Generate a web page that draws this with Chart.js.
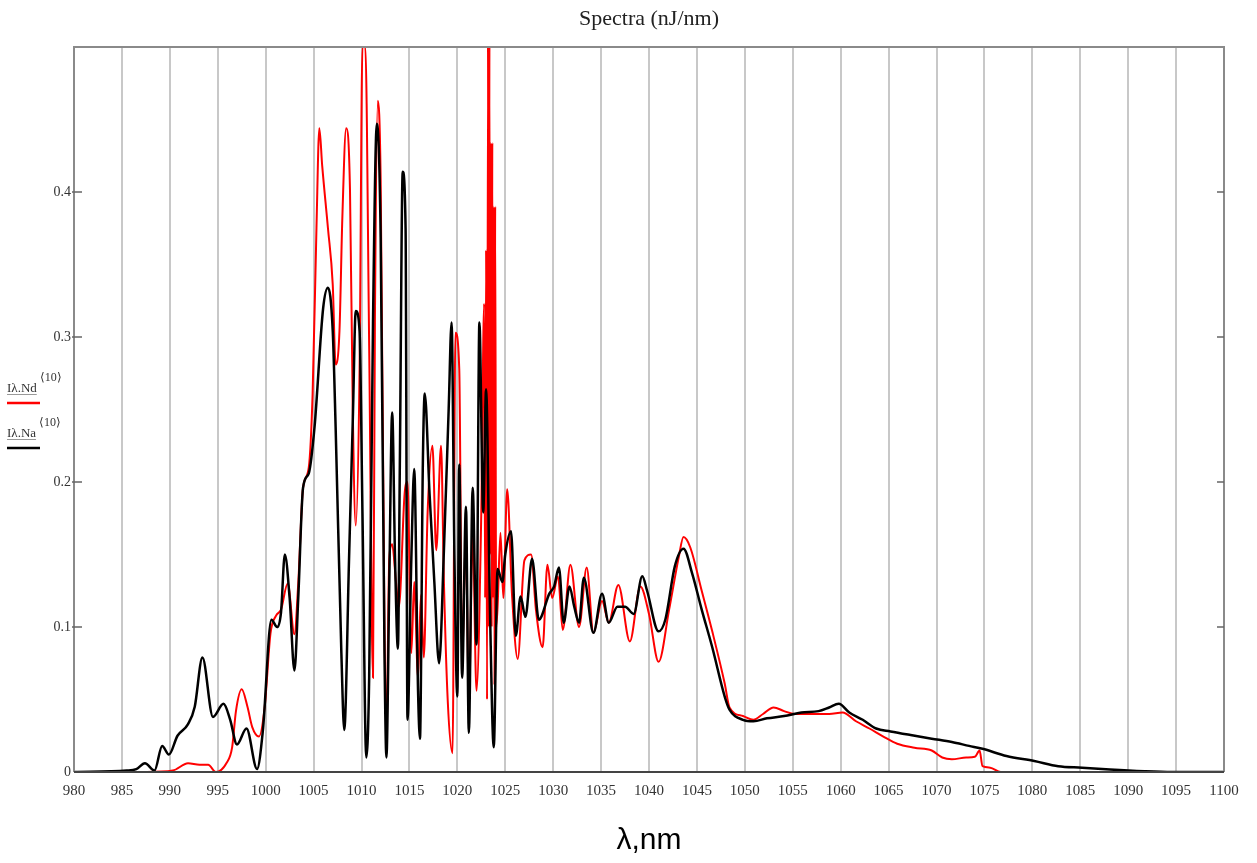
<!DOCTYPE html>
<html>
<head>
<meta charset="utf-8">
<script src="https://cdn.jsdelivr.net/npm/chart.js@4.4.1/dist/chart.umd.min.js"></script>
<style>
  body { margin: 0; background: #fff; }
  #wrap { width: 1257px; height: 863px; }
</style>
</head>
<body>
<div id="wrap"><canvas id="spectra" width="1257" height="863"></canvas></div>
<script>
// Na spectrum (black), nJ/nm vs wavelength, nm
const naWavelength = [
  980, 985.5, 986.5, 987.4, 988.4, 989.2, 989.9, 990.8, 991.9, 992.6, 993.4, 994.5, 995.6, 996.3,
  997.0, 998.0, 999.1, 999.7, 1000.6, 1001.2, 1001.6, 1002.0, 1002.5, 1003.0, 1003.4, 1003.9,
  1004.5, 1005.1, 1006.0, 1006.5, 1007.0, 1007.3, 1007.9, 1008.2, 1008.7, 1009.1, 1009.4, 1009.8,
  1010.1, 1010.5, 1010.8, 1011.2, 1011.6, 1012.0, 1012.4, 1012.6, 1012.9, 1013.2, 1013.5, 1013.8,
  1014.0, 1014.3, 1014.6, 1014.8, 1015.2, 1015.5, 1015.9, 1016.1, 1016.4, 1016.6, 1017.1, 1017.6,
  1018.1, 1018.6, 1019.1, 1019.4, 1019.7, 1020.0, 1020.2, 1020.5, 1020.9, 1021.2, 1021.6, 1022.0,
  1022.3, 1022.7, 1023.0, 1023.4, 1023.8, 1024.2, 1024.7, 1025.0, 1025.6, 1026.1, 1026.6, 1027.1,
  1027.8, 1028.5, 1029.6, 1030.1, 1030.6, 1031.1, 1031.7, 1032.2, 1032.7, 1033.2, 1034.2, 1035.1,
  1035.8, 1036.7, 1037.5, 1038.4, 1039.3, 1039.8, 1041.0, 1041.7, 1042.7, 1043.6, 1044.5, 1045.5,
  1046.6, 1047.9, 1048.4, 1049.8, 1050.9, 1052.3, 1054.1, 1055.9, 1057.7, 1058.8, 1059.8, 1060.9,
  1062.3, 1063.7, 1065.2, 1067.3, 1069.5, 1071.6, 1073.4, 1074.8, 1077.3, 1080.2, 1082.7, 1085.2,
  1088.1, 1091.7, 1094.6, 1100
];
const naSpectrum = [
  0, 0.001, 0.002, 0.006, 0.001, 0.018, 0.012, 0.025, 0.033, 0.045, 0.079, 0.038, 0.047, 0.036,
  0.019, 0.030, 0.002, 0.028, 0.105, 0.100, 0.110, 0.150, 0.120, 0.070, 0.120, 0.196,
  0.206, 0.238, 0.320, 0.334, 0.304, 0.238, 0.082, 0.029, 0.147, 0.245, 0.318, 0.304,
  0.179, 0.010, 0.065, 0.310, 0.447, 0.369, 0.082, 0.010, 0.131, 0.248, 0.147, 0.085,
  0.212, 0.414, 0.375, 0.036, 0.147, 0.209, 0.056, 0.023, 0.212, 0.261, 0.192, 0.131,
  0.075, 0.153, 0.251, 0.310, 0.147, 0.052, 0.212, 0.065, 0.183, 0.027, 0.196, 0.088,
  0.310, 0.179, 0.264, 0.114, 0.017, 0.140, 0.131, 0.150, 0.166, 0.094, 0.121, 0.107,
  0.147, 0.105, 0.123, 0.128, 0.141, 0.103, 0.128, 0.114, 0.103, 0.134, 0.096, 0.123,
  0.103, 0.114, 0.114, 0.109, 0.135, 0.125, 0.097, 0.105, 0.142, 0.154, 0.137, 0.112,
  0.086, 0.052, 0.043, 0.036, 0.035, 0.037, 0.0386, 0.041, 0.042, 0.0445, 0.047, 0.041,
  0.036, 0.030, 0.028, 0.0255, 0.023, 0.0207, 0.018, 0.016, 0.011, 0.0076, 0.004, 0.003,
  0.0017, 0.0005, 0, 0
];

// Nd spectrum (red)
const ndWavelength = [
  980, 986, 987.6, 990.3, 991.9, 993.1, 994.0, 994.8, 995.9, 996.5, 996.9, 997.5, 998.1, 998.6,
  999.3, 999.9, 1000.5, 1001.1, 1001.6, 1002.3, 1003.0, 1003.4, 1003.9, 1004.5, 1004.9, 1005.3,
  1005.6, 1005.9, 1006.5, 1007.0, 1007.3, 1007.7, 1008.0, 1008.4, 1008.8, 1009.1, 1009.4, 1009.8,
  1010.1, 1010.4, 1010.8, 1011.2, 1011.4, 1011.7, 1012.0, 1012.4, 1012.6, 1012.9, 1013.2, 1013.6,
  1013.9, 1014.5, 1014.8, 1015.2, 1015.5, 1015.9, 1016.2, 1016.5, 1016.9, 1017.4, 1017.8, 1018.3,
  1018.6, 1019.0, 1019.5, 1019.8, 1020.2, 1020.5, 1020.9, 1021.2, 1021.6, 1022.0, 1022.5, 1022.8,
  1022.9, 1023.0, 1023.1, 1023.2, 1023.28, 1023.35, 1023.42, 1023.5, 1023.58, 1023.65, 1023.72,
  1023.8, 1023.88, 1023.95, 1024.05, 1024.2, 1024.5, 1024.8, 1025.2,
  1025.7, 1026.3, 1027.0, 1027.7, 1028.2, 1028.9, 1029.4, 1029.9, 1030.5, 1031.0, 1031.8, 1032.7,
  1033.5, 1034.2, 1035.1, 1035.8, 1036.8, 1038.0, 1039.1, 1040.0, 1041.0, 1042.1, 1043.1, 1043.6,
  1044.3, 1045.5, 1046.6, 1047.9, 1048.4, 1049.8, 1050.9, 1051.9, 1053.0, 1054.1, 1055.2, 1057.0,
  1058.8, 1060.2, 1061.6, 1063.0, 1064.5, 1065.9, 1067.7, 1069.5, 1070.6, 1071.6, 1073.1, 1074.0,
  1074.5, 1074.8, 1075.6, 1076.7, 1100
];
const ndSpectrum = [
  0, 0, 0, 0.001, 0.006, 0.005, 0.005, 0, 0.006, 0.017, 0.042, 0.057, 0.045, 0.031,
  0.0245, 0.045, 0.0955, 0.108, 0.112, 0.130, 0.095, 0.130, 0.196, 0.210, 0.261, 0.375,
  0.444, 0.418, 0.375, 0.336, 0.281, 0.304, 0.382, 0.444, 0.401, 0.245, 0.170, 0.278,
  0.500, 0.500, 0.294, 0.065, 0.310, 0.463, 0.408, 0.098, 0.027, 0.147, 0.157, 0.131,
  0.114, 0.192, 0.200, 0.082, 0.131, 0.065, 0.122, 0.079, 0.179, 0.225, 0.153, 0.225,
  0.131, 0.049, 0.013, 0.303, 0.278, 0.082, 0.161, 0.045, 0.165, 0.056, 0.179, 0.323,
  0.120, 0.360, 0.050, 0.500, 0.100, 0.500, 0.150, 0.434, 0.100, 0.434, 0.120,
  0.390, 0.060, 0.390, 0.100, 0.114, 0.165, 0.120, 0.195,
  0.123, 0.078, 0.146, 0.150, 0.112, 0.086, 0.143, 0.120, 0.135, 0.098, 0.143, 0.100,
  0.141, 0.096, 0.118, 0.103, 0.129, 0.090, 0.128, 0.109, 0.076, 0.112, 0.148, 0.162,
  0.155, 0.125, 0.097, 0.061, 0.0445, 0.0386, 0.036, 0.040, 0.0445, 0.042, 0.040, 0.040,
  0.040, 0.041, 0.035, 0.030, 0.0243, 0.0195, 0.0167, 0.0148, 0.010, 0.0088, 0.010, 0.0105,
  0.0148, 0.004, 0.003, 0, 0
];

const xTicks = [980, 985, 990, 995, 1000, 1005, 1010, 1015, 1020, 1025, 1030, 1035, 1040,
  1045, 1050, 1055, 1060, 1065, 1070, 1075, 1080, 1085, 1090, 1095, 1100];
const yTicks = [0, 0.1, 0.2, 0.3, 0.4];
const yTickLabels = ['0', '0.1', '0.2', '0.3', '0.4'];

const toPoints = (xs, ys) => xs.map((x, i) => ({ x: x, y: ys[i] }));

// frame, inner ticks, title and the little legend on the left
const decorations = {
  id: 'decorations',
  afterDatasetsDraw(chart) {
    const ctx = chart.ctx;
    const a = chart.chartArea;
    const y = chart.scales.y;
    ctx.save();
    ctx.strokeStyle = '#8a8a8a';
    ctx.lineWidth = 2;
    ctx.beginPath();
    ctx.moveTo(a.left, a.bottom);
    ctx.lineTo(a.left, a.top);
    ctx.lineTo(a.right, a.top);
    ctx.lineTo(a.right, a.bottom);
    ctx.stroke();
    ctx.strokeStyle = '#444';
    ctx.beginPath();
    ctx.moveTo(a.left, a.bottom);
    ctx.lineTo(a.right, a.bottom);
    ctx.stroke();
    ctx.lineWidth = 1.5;
    ctx.strokeStyle = '#666';
    yTicks.slice(1).forEach(v => {
      const py = y.getPixelForValue(v);
      ctx.beginPath();
      ctx.moveTo(a.left - 2, py);
      ctx.lineTo(a.left + 8, py);
      ctx.moveTo(a.right - 7, py);
      ctx.lineTo(a.right, py);
      ctx.stroke();
    });
    ctx.restore();
  },
  afterDraw(chart) {
    const ctx = chart.ctx;
    const a = chart.chartArea;
    ctx.save();
    ctx.fillStyle = '#222';
    ctx.font = '22px "Liberation Serif"';
    ctx.textAlign = 'center';
    ctx.textBaseline = 'middle';
    ctx.fillText('Spectra (nJ/nm)', (a.left + a.right) / 2, 19);

    ctx.textAlign = 'left';
    ctx.textBaseline = 'alphabetic';
    const entries = [
      { name: 'Iλ.Nd', color: '#ff0000', base: 392, line: 403 },
      { name: 'Iλ.Na', color: '#000000', base: 437, line: 448 }
    ];
    entries.forEach(e => {
      ctx.fillStyle = '#333';
      ctx.font = '13px "Liberation Serif"';
      ctx.fillText(e.name, 7, e.base);
      const w = ctx.measureText(e.name).width;
      ctx.font = '12px "Liberation Serif"';
      ctx.fillText('⟨10⟩', 10 + w, e.base - 11);
      ctx.strokeStyle = '#999';
      ctx.lineWidth = 1;
      ctx.beginPath();
      ctx.moveTo(7, e.base + 2.5);
      ctx.lineTo(7 + w, e.base + 2.5);
      ctx.stroke();
      ctx.strokeStyle = e.color;
      ctx.lineWidth = 2.5;
      ctx.beginPath();
      ctx.moveTo(7, e.line);
      ctx.lineTo(40, e.line);
      ctx.stroke();
    });
    ctx.restore();
  }
};

new Chart(document.getElementById('spectra'), {
  type: 'line',
  data: {
    datasets: [
      {
        label: 'Iλ.Na',
        data: toPoints(naWavelength, naSpectrum),
        borderColor: '#000000',
        borderWidth: 2.5,
        order: 0
      },
      {
        label: 'Iλ.Nd',
        data: toPoints(ndWavelength, ndSpectrum),
        borderColor: '#ff0000',
        borderWidth: 2,
        order: 1
      }
    ]
  },
  plugins: [decorations],
  options: {
    responsive: false,
    animation: false,
    parsing: false,
    layout: { padding: { top: 47, right: 33, left: 0, bottom: 0 } },
    elements: {
      point: { radius: 0 },
      line: { cubicInterpolationMode: 'monotone', fill: false }
    },
    plugins: {
      legend: { display: false },
      title: { display: false },
      tooltip: { enabled: false }
    },
    scales: {
      x: {
        type: 'linear',
        min: 980,
        max: 1100,
        afterBuildTicks: (scale) => { scale.ticks = xTicks.map(v => ({ value: v })); },
        afterFit: (scale) => { scale.height = 91; },
        grid: { color: '#c8c8c8', lineWidth: 2, drawTicks: false },
        border: { display: false },
        ticks: {
          autoSkip: false,
          maxRotation: 0,
          padding: 10,
          color: '#333',
          font: { family: 'Liberation Serif', size: 15 },
          callback: (value) => String(value)
        },
        title: {
          display: true,
          text: 'λ,nm',
          color: '#000',
          font: { family: 'Liberation Sans', size: 30 },
          padding: { top: 0, bottom: 4 }
        }
      },
      y: {
        type: 'linear',
        min: 0,
        max: 0.5,
        afterBuildTicks: (scale) => { scale.ticks = yTicks.map(v => ({ value: v })); },
        afterFit: (scale) => { scale.width = 74; },
        grid: { display: false, drawTicks: false },
        border: { display: false },
        ticks: {
          padding: 3,
          color: '#333',
          font: { family: 'Liberation Serif', size: 14 },
          callback: (value, index) => yTickLabels[index]
        }
      }
    }
  }
});
</script>
</body>
</html>
